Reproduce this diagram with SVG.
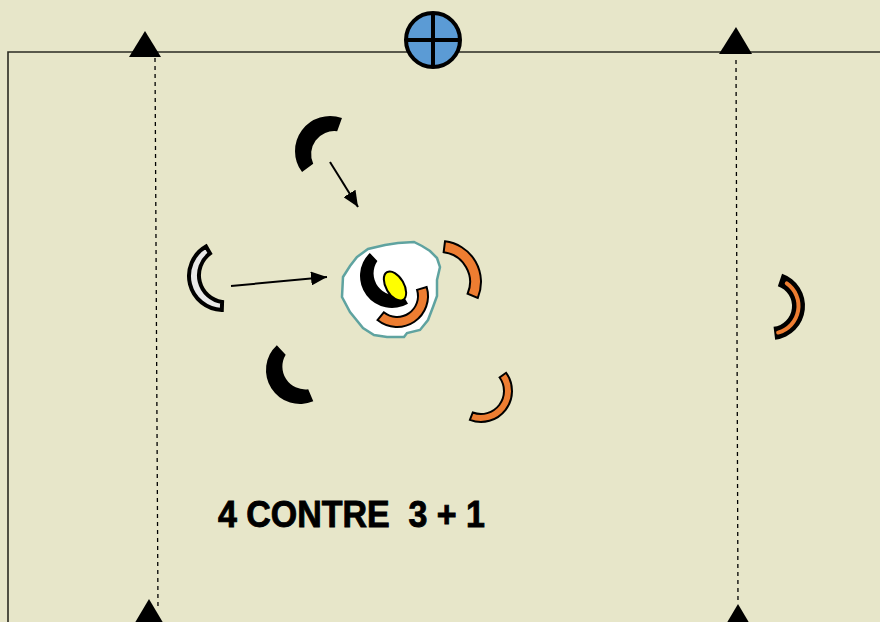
<svg xmlns="http://www.w3.org/2000/svg" width="880" height="622" viewBox="0 0 880 622">
<style>
.field{fill:none;stroke:#2b2b22;stroke-width:1.6}
.dash{stroke:#000;stroke-width:1.3;stroke-dasharray:4 4;fill:none}
.cone{fill:#000}
.blk{fill:#000}
.org{fill:#ED7D31;stroke:#000;stroke-width:2;stroke-linejoin:miter}
.wht{fill:#E8E8E8;stroke:#000;stroke-width:4;stroke-linejoin:miter}
.arr{stroke:#000;stroke-width:2;fill:none;marker-end:url(#ah)}
.title{font-family:"Liberation Sans",Arial,sans-serif;font-weight:bold;font-size:37px;fill:#000;stroke:#000;stroke-width:0.9}
</style>
<defs>
<marker id="ah" markerUnits="userSpaceOnUse" markerWidth="18" markerHeight="14" refX="16" refY="7" orient="auto">
<path d="M0,0 L16,7 L0,14 Z" fill="#000"/>
</marker>
</defs>
<rect x="0" y="0" width="880" height="622" fill="#E7E6C9"/>
<g id="field">
<path class="field" d="M8,622 L8,52 L880,52"/>
</g>
<g id="posts">
<line class="dash" x1="155" y1="58" x2="158" y2="610"/>
<line class="dash" x1="736" y1="60" x2="738" y2="604"/>
<polygon class="cone" points="145,31 129,57 161,57"/>
<polygon class="cone" points="149,599 133,626 165,626"/>
<polygon class="cone" points="736,27 719,54 752,54"/>
<polygon class="cone" points="738,604 722,631 754,631"/>
</g>
<g id="ball">
<circle cx="433" cy="40" r="27" fill="#5B9BD5" stroke="#000" stroke-width="4"/>
<line x1="433" y1="13" x2="433" y2="67" stroke="#000" stroke-width="4"/>
<line x1="406" y1="40" x2="460" y2="40" stroke="#000" stroke-width="4"/>
</g>
<g id="zone">
<path d="M357,257 L368,249 L385,245 L398,243 L414,242 L422,246 L430,251 L437,258 L440,267 L437,280 L437,296 L433,307 L428,320 L420,330 L407,333 L404,337 L387,337 L374,335 L363,328 L350,312 L342,297 L343,277 L350,266 Z" fill="#FFFFFF" stroke="#5FA3A0" stroke-width="2.5"/>
</g>
<g id="player-top">
<path class="blk" d="M341.97,118.11 A35,35 0 0 0 302.05,172.06 L313.22,163.64 A23,23 0 0 1 337.18,131.27 Z"/>
</g>
<g id="player-left">
<path class="wht" d="M206,246.56 A34,34 0 0 0 221.81,309.98 L222.09,301.98 A27,27 0 0 1 210,253.48 Z"/>
</g>
<g id="player-center-black">
<path class="blk" d="M369.77,252.98 A32,32 0 0 0 408,303.71 L402.5,294.19 A22,22 0 0 1 377.41,260.89 Z"/>
</g>
<g id="ball-carrier">
<ellipse cx="395" cy="286" rx="9" ry="16" transform="rotate(-30 395 286)" fill="#FFFF00" stroke="#000" stroke-width="2"/>
</g>
<g id="player-center-orange">
<path class="org" d="M426.65,286.94 A31,31 0 0 1 377.49,320.09 L383.78,312.32 A21,21 0 0 0 417.08,289.86 Z"/>
</g>
<g id="player-orange-right">
<path class="org" d="M445,241.31 A41,41 0 0 1 477.74,298.02 L467.62,293.72 A30,30 0 0 0 443.66,252.22 Z"/>
</g>
<g id="player-bottom-left">
<path class="blk" d="M276.81,345.13 A34,34 0 0 0 313.28,401.3 L308.2,389.33 A23,23 0 0 1 285.68,354.64 Z"/>
</g>
<g id="player-bottom-right">
<path class="org" d="M506.08,372.78 A31,31 0 0 1 469.89,419.94 L472.76,412.47 A23,23 0 0 0 499.61,377.48 Z"/>
</g>
<g id="player-far-right">
<path class="blk" d="M782.07,273.85 A34,34 0 0 1 775.14,339.75 L773.56,326.84 A21,21 0 0 0 777.84,286.14 Z"/>
<path d="M786.77,283.47 A27.5,27.5 0 0 1 778.12,332.56" fill="none" stroke="#ED7D31" stroke-width="4" stroke-linecap="round"/>
</g>
<g id="connectors">
<line class="arr" x1="330" y1="162" x2="358" y2="207"/>
<line class="arr" x1="231" y1="286" x2="327" y2="277"/>
</g>
<g id="label">
<text class="title" x="218" y="527" textLength="267" lengthAdjust="spacingAndGlyphs" xml:space="preserve">4 CONTRE  3 + 1</text>
</g>
</svg>
